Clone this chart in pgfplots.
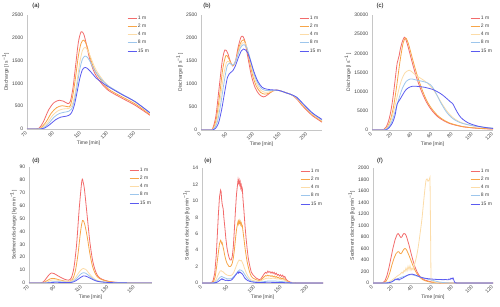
\documentclass[border=0pt]{standalone}
\usepackage{fontspec}
\setmainfont{Liberation Sans}
\usepackage{pgfplots}
\pgfplotsset{compat=1.18}
\newcommand\fs{\fontsize{5}{6}\selectfont}
\definecolor{c1}{HTML}{F26B6B}
\definecolor{c2}{HTML}{F7A548}
\definecolor{c4}{HTML}{FCDCA8}
\definecolor{c8}{HTML}{9DC6EC}
\definecolor{c15}{HTML}{5B5BF0}
\pgfplotsset{
  panel/.style={
    scale only axis, anchor=north west,
    axis lines=left, axis line style={draw=gray!45,-},
    tick style={draw=none},
    /pgf/number format/assume math mode=true,
    /pgf/number format/1000 sep={},
    scaled ticks=false,
    ticklabel style={font=\fs, text=black!75},
    xticklabel style={rotate=45, anchor=east, inner sep=1pt},
    yticklabel style={inner sep=1.5pt},
    label style={font=\fs, text=black!75},
    xlabel={Time [min]},
    xlabel style={yshift=3pt},
    ylabel style={yshift=-2pt},
    ymin=0,
    legend style={at={(1,1)}, anchor=north east, draw=none, fill=none, font=\fs, row sep=1.6pt, inner sep=0pt, nodes={inner sep=0.8pt, text=black!75}},
    legend cell align=left,
    legend image code/.code={\draw[#1,line width=1pt] (0pt,0pt)--(9pt,0pt);},
    every axis plot/.append style={line width=0.8pt},
  }
}
\begin{document}
\begin{tikzpicture}
\path[use as bounding box] (0,0) rectangle (500pt,-307pt);
% (a)
\begin{axis}[panel, at={(27pt,-15pt)}, width=123pt, height=114pt,
  xmin=70, xmax=161, ymax=2500, xtick={70,90,110,130,150}, ytick={0,500,...,2500},
  ylabel={Discharge [l s\textsuperscript{−1}]}]
\addplot[c1, smooth] coordinates {(70,0) (76,0) (79,20) (82,150) (86,420) (90,580) (94,630) (97,610) (100,560) (102,600) (104,900) (106,1400) (108,1900) (110,2130) (112,2080) (114,1850) (116,1580) (118,1380) (120,1230) (124,1040) (130,850) (140,680) (150,520) (161,300)};
\addplot[c2, smooth] coordinates {(70,0) (77,0) (80,20) (84,150) (88,350) (92,470) (96,510) (100,490) (102,510) (104,750) (106,1150) (108,1600) (110,1880) (112,1950) (114,1850) (116,1650) (118,1450) (120,1300) (124,1100) (130,880) (140,710) (150,550) (161,320)};
\addplot[c4, smooth] coordinates {(70,0)(78,0)(81,20)(85,130)(89,300)(93,400)(97,440)(101,450)(103,500)(105,700)(107,1050)(109,1450)(111,1720)(113,1790)(115,1720)(117,1580)(119,1430)(121,1300)(125,1120)(130,950)(140,760)(150,590)(161,340)};
\addplot[c8, smooth] coordinates {(70,0)(79,0)(82,20)(86,120)(90,260)(94,340)(98,370)(101,390)(103,440)(105,620)(107,940)(109,1300)(111,1530)(113,1600)(115,1560)(117,1460)(119,1340)(121,1240)(125,1090)(130,950)(140,770)(150,600)(161,355)};
\addplot[c15, smooth] coordinates {(70,0)(80,0)(83,20)(87,100)(91,200)(95,260)(99,280)(101,300)(103,360)(105,520)(107,800)(109,1100)(111,1300)(113,1350)(115,1320)(117,1260)(119,1190)(121,1120)(125,1030)(130,930)(140,760)(150,600)(161,355)};
\legend{1 m,2 m,4 m,8 m,15 m}
\end{axis}
% (b)
\begin{axis}[panel, at={(201pt,-15pt)}, width=121pt, height=115pt,
  xmin=0, xmax=228, ymax=2500, xtick={0,50,...,200}, ytick={0,500,...,2500},
  ylabel={Discharge [l s\textsuperscript{−1}]}]
\addplot[c1, smooth] coordinates {(0,0)(18,0)(22,30)(28,300)(34,900)(40,1500)(45,1740)(50,1680)(55,1500)(60,1390)(65,1500)(70,1800)(75,2010)(78,2040)(82,1960)(88,1600)(95,1180)(102,920)(110,770)(118,720)(125,760)(135,850)(142,870)(150,850)(160,810)(170,770)(180,680)(190,540)(200,420)(210,310)(220,230)(228,170)};
\addplot[c2, smooth] coordinates {(0,0)(19,0)(23,30)(29,250)(35,750)(41,1330)(47,1620)(52,1560)(57,1440)(61,1400)(66,1520)(72,1820)(77,1940)(80,1960)(84,1890)(90,1580)(97,1200)(104,960)(112,820)(120,780)(128,800)(136,850)(142,865)(150,850)(160,810)(170,770)(180,690)(190,560)(200,440)(210,330)(220,250)(228,185)};
\addplot[c4, smooth] coordinates {(0,0)(20,0)(24,30)(30,220)(36,650)(42,1150)(48,1470)(53,1480)(58,1420)(62,1420)(67,1560)(73,1800)(78,1890)(81,1900)(85,1850)(91,1580)(98,1230)(105,1000)(113,860)(121,820)(129,830)(137,860)(143,865)(150,850)(160,810)(170,770)(180,700)(190,575)(200,455)(210,345)(220,265)(228,200)};
\addplot[c8, smooth] coordinates {(0,0)(21,0)(25,30)(31,180)(37,550)(43,1000)(49,1380)(54,1450)(59,1410)(63,1440)(68,1580)(74,1780)(79,1850)(82,1850)(86,1800)(92,1580)(99,1260)(106,1040)(114,900)(122,860)(130,860)(138,865)(144,865)(150,850)(160,810)(170,770)(180,710)(190,590)(200,470)(210,360)(220,280)(228,215)};
\addplot[c15, smooth] coordinates {(0,0)(22,0)(27,30)(33,150)(39,450)(45,850)(50,1150)(55,1240)(60,1290)(65,1400)(70,1560)(76,1720)(80,1760)(84,1740)(88,1680)(94,1480)(100,1260)(107,1060)(115,930)(123,890)(131,875)(139,870)(145,865)(150,850)(160,810)(170,770)(180,715)(190,600)(200,480)(210,370)(220,290)(228,230)};
\legend{1 m,2 m,4 m,8 m,15 m}
\end{axis}
% (c)
\begin{axis}[panel, at={(372pt,-15pt)}, width=121pt, height=115pt,
  xmin=0, xmax=120, ymax=30000, xtick={0,20,...,120}, ytick={0,5000,...,30000},
  ylabel={Discharge [l s\textsuperscript{−1}]}]
\addplot[c1, smooth] coordinates {(0,0)(10,0)(12,200)(14,800)(16,2000)(18,4000)(20,7000)(22,11000)(24,15500)(25,17500)(26,18500)(27,19500)(28,21000)(30,23000)(32,24200)(33,24000)(34,23300)(36,21500)(38,19500)(40,17500)(42,15600)(45,13000)(50,9500)(55,6800)(60,4900)(65,3500)(70,2600)(75,1900)(80,1450)(90,850)(100,550)(110,350)(120,250)};
\addplot[c2, smooth] coordinates {(0,0)(11,0)(13,200)(15,700)(17,1700)(19,3300)(21,5600)(23,8800)(25,12500)(27,16500)(29,20000)(31,22800)(33,24000)(34,23900)(36,22600)(38,20700)(40,18700)(42,16800)(45,14100)(50,10300)(55,7300)(60,5300)(65,3800)(70,2800)(75,2050)(80,1550)(90,900)(100,580)(110,380)(120,260)};
\addplot[c4, smooth] coordinates {(0,0)(11,0)(13,200)(15,600)(17,1400)(19,2700)(21,4500)(23,6500)(25,8800)(27,11000)(29,12800)(31,14100)(33,15000)(35,15400)(37,15600)(39,15300)(42,14600)(45,14000)(50,13200)(55,12200)(60,10800)(65,8800)(70,6600)(75,4700)(80,3300)(85,2400)(90,1800)(100,1100)(110,700)(120,450)};
\addplot[c8, smooth] coordinates {(0,0)(12,0)(14,200)(16,600)(18,1300)(20,2500)(22,4000)(24,5800)(26,7600)(28,9300)(30,10800)(32,11900)(34,12700)(36,13100)(38,13300)(40,13300)(43,13100)(46,12900)(50,12700)(55,12300)(58,11800)(61,10800)(64,9300)(67,7700)(70,6300)(73,5000)(76,4000)(80,3000)(85,2200)(90,1700)(100,1100)(110,750)(120,500)};
\addplot[c15, smooth] coordinates {(0,0)(13,0)(15,200)(17,600)(19,1300)(21,2300)(23,4000)(24,5500)(25,6800)(26,7300)(28,8100)(30,9000)(32,9900)(34,10600)(36,11000)(38,11250)(40,11400)(44,11400)(48,11300)(52,11150)(56,10900)(60,10600)(64,10100)(68,9500)(72,8700)(75,8000)(78,7300)(80,6900)(82,5900)(84,4900)(86,4000)(88,3300)(90,2800)(95,1900)(100,1400)(105,1000)(110,750)(115,550)(120,400)};
\legend{1 m,2 m,4 m,8 m,15 m}
\end{axis}
% (d)
\begin{axis}[panel, at={(29pt,-167pt)}, width=123pt, height=116pt,
  xmin=70, xmax=163, ymax=90, xtick={70,90,110,130,150}, ytick={0,10,...,90},
  ylabel={Sediment discharge [kg min\textsuperscript{−1}]}]
\addplot[c1, smooth] coordinates {(70,0)(79,0)(81,1)(83,3.5)(85,6.2)(87,7.8)(89,7.3)(92,5.5)(95,3.8)(98,2.5)(100,2.2)(102,4)(104,12)(106,30)(108,58)(110,79.5)(111,78)(112,72)(114,52)(116,32)(118,18)(120,10)(122,5.5)(125,3)(130,1.3)(135,0.6)(140,0.3)(150,0.1)(163,0)};
\addplot[c2, smooth] coordinates {(70,0)(80,0)(82,0.8)(84,2)(86,3.2)(88,3.6)(90,3.3)(93,2.4)(96,1.7)(99,1.2)(101,1.3)(103,3)(105,9)(107,22)(109,40)(110.5,48.5)(112,46)(114,36)(116,23)(118,13)(120,7.5)(122,4.5)(125,2.6)(130,1.2)(135,0.5)(140,0.2)(150,0.05)(163,0)};
\addplot[c4, smooth] coordinates {(70,0)(81,0)(84,0.8)(87,2.2)(90,2.4)(94,1.7)(98,1.1)(101,1.2)(103,2)(105,4)(107,7)(109,9.8)(111,11.3)(113,10.5)(115,8)(117,5.5)(119,3.5)(121,2.2)(124,1.3)(130,0.6)(140,0.2)(163,0)};
\addplot[c8, smooth] coordinates {(70,0)(82,0)(85,0.4)(88,0.9)(91,1.0)(95,0.8)(99,0.6)(102,0.8)(104,1.8)(106,3.5)(108,5.8)(110,7.6)(111.5,8)(113,7.5)(115,6)(117,4.2)(119,2.8)(121,1.8)(124,1)(130,0.4)(140,0.1)(163,0)};
\addplot[c15, smooth] coordinates {(70,0)(83,0)(86,0.2)(89,0.5)(92,0.5)(96,0.4)(100,0.35)(103,0.6)(105,1.5)(107,2.8)(109,4.3)(111,5.5)(113,5.3)(115,4.4)(117,3.3)(119,2.3)(121,1.5)(124,0.9)(130,0.4)(140,0.1)(163,0)};
\legend{1 m,2 m,4 m,8 m,15 m}
\end{axis}
% (e)
\begin{axis}[panel, at={(202pt,-168pt)}, width=121pt, height=115pt,
  xmin=0, xmax=228, ymax=14, xtick={0,50,...,200}, ytick={0,2,...,14},
  ylabel={Sediment discharge [kg min\textsuperscript{−1}]}]
\addplot[c1] coordinates {(0,0)(15,0)(18,0.05)(21,0.3)(24,1.2)(27,3.5)(29,6)(31,8.5)(33,10.5)(35,11.3)(36,11.1)(37,10.2)(38,9.6)(39,9.3)(40,9.0)(41,8.1)(43,6.8)(45,5.4)(47,4.3)(49,3.6)(51,3.1)(53,2.8)(55,2.8)(57,3.2)(59,4.4)(61,6.5)(63,8.8)(65,10.8)(67,12.0)(68,12.6)(69,12.2)(70,12.5)(71,12.0)(72,12.3)(73,11.6)(74,11.9)(75,11.3)(76,11.5)(77,10.4)(79,8.8)(81,7.0)(83,5.5)(85,4.2)(87,3.1)(89,2.4)(91,1.8)(93,1.3)(96,1.0)(99,0.8)(102,0.6)(105,0.5)(108,0.4)(111,0.5)(114,0.8)(117,1.1)(120,1.3)(122,1.2)(124,1.45)(126,1.3)(128,1.4)(130,1.2)(132,1.35)(134,1.15)(136,1.3)(138,1.05)(140,1.2)(142,0.95)(144,1.05)(146,0.85)(148,1.0)(150,0.8)(152,0.95)(154,0.7)(156,0.8)(158,0.5)(160,0.35)(163,0.2)(167,0.1)(172,0.03)(180,0)(228,0)};
\addplot[c2] coordinates {(0,0)(16,0)(19,0.05)(22,0.2)(25,0.8)(28,2.2)(31,3.8)(33,4.8)(35,5.2)(36,5.1)(37,4.8)(38,4.9)(39,4.6)(41,4.0)(43,3.3)(45,2.8)(47,2.4)(49,2.2)(51,2.0)(53,2.0)(55,2.1)(57,2.4)(59,3.0)(61,4.0)(63,5.3)(65,6.5)(67,7.2)(68,7.5)(69,7.2)(70,7.6)(71,7.3)(72,7.5)(73,7.1)(74,7.3)(75,6.9)(76,7.0)(77,6.4)(79,5.4)(81,4.3)(83,3.4)(85,2.6)(87,2.0)(89,1.5)(91,1.1)(93,0.8)(96,0.6)(99,0.5)(102,0.4)(105,0.35)(108,0.3)(111,0.35)(114,0.55)(117,0.75)(120,0.9)(122,0.85)(124,0.95)(126,0.85)(128,0.9)(130,0.8)(132,0.9)(134,0.75)(136,0.85)(138,0.7)(140,0.8)(142,0.65)(144,0.7)(146,0.55)(148,0.65)(150,0.5)(152,0.6)(154,0.45)(156,0.5)(158,0.3)(160,0.2)(163,0.12)(167,0.05)(172,0.02)(180,0)(228,0)};
\addplot[c4] coordinates {(0,0)(17,0)(20,0.02)(23,0.1)(26,0.35)(29,0.8)(32,1.2)(34,1.45)(36,1.5)(38,1.4)(40,1.35)(42,1.2)(45,1.05)(48,0.95)(51,0.9)(54,0.9)(57,1.0)(60,1.3)(63,1.8)(66,2.3)(68,2.6)(70,2.8)(72,2.7)(74,2.75)(76,2.5)(78,2.2)(80,1.8)(83,1.3)(86,0.9)(89,0.6)(92,0.4)(96,0.3)(100,0.25)(105,0.2)(110,0.25)(115,0.4)(120,0.55)(125,0.6)(130,0.55)(135,0.6)(140,0.5)(145,0.5)(150,0.4)(155,0.35)(160,0.15)(165,0.06)(172,0.02)(180,0)(228,0)};
\addplot[c8] coordinates {(0,0)(18,0)(22,0.03)(26,0.15)(30,0.4)(34,0.7)(37,0.8)(40,0.7)(44,0.6)(48,0.5)(52,0.5)(56,0.55)(60,0.8)(64,1.1)(68,1.45)(71,1.6)(74,1.55)(77,1.4)(80,1.1)(84,0.7)(88,0.4)(92,0.25)(97,0.15)(105,0.1)(115,0.15)(125,0.25)(135,0.25)(145,0.2)(155,0.15)(163,0.05)(172,0)(228,0)};
\addplot[c15] coordinates {(0,0)(20,0)(24,0.02)(28,0.08)(31,0.2)(34,0.35)(36,0.45)(37,0.5)(38,0.42)(39,0.5)(41,0.4)(43,0.35)(45,0.3)(47,0.35)(49,0.28)(51,0.3)(53,0.32)(55,0.35)(57,0.45)(59,0.6)(61,0.75)(63,0.95)(65,1.1)(67,1.25)(68,1.35)(69,1.2)(70,1.3)(71,1.35)(72,1.25)(73,1.3)(74,1.2)(76,1.1)(78,0.9)(80,0.65)(83,0.45)(86,0.3)(90,0.2)(95,0.12)(100,0.08)(110,0.06)(120,0.08)(130,0.08)(140,0.07)(150,0.06)(160,0.03)(170,0.01)(180,0)(228,0)};
\legend{1 m,2 m,4 m,8 m,15 m}
\end{axis}
% (f)
\begin{axis}[panel, at={(373pt,-168pt)}, width=120pt, height=115pt,
  xmin=0, xmax=120, ymax=2000, xtick={0,20,...,120}, ytick={0,200,...,2000},
  ylabel={Sediment discharge [kg min\textsuperscript{−1}]}]
\addplot[c1] coordinates {(0,0)(8,0)(10,5)(12,40)(14,130)(16,270)(18,440)(20,610)(22,750)(24,840)(25,860)(26,845)(27,810)(28,790)(29,805)(30,845)(31,860)(32,855)(33,830)(34,780)(36,660)(38,520)(40,390)(42,280)(44,195)(46,135)(48,95)(50,70)(52,50)(55,35)(58,20)(62,10)(66,3)(70,0)(120,0)};
\addplot[c2] coordinates {(0,0)(9,0)(11,5)(13,30)(15,90)(17,190)(19,320)(21,430)(23,510)(25,545)(26,540)(27,515)(28,510)(29,530)(30,565)(31,590)(32,600)(33,590)(34,560)(36,480)(38,390)(40,300)(42,220)(44,160)(46,115)(48,80)(50,55)(52,40)(55,25)(58,15)(62,7)(66,2)(70,0)(120,0)};
\addplot[c4] coordinates {(0,0)(10,0)(13,5)(16,20)(19,50)(22,90)(25,130)(27,150)(29,190)(30,170)(31,220)(32,200)(33,260)(34,210)(35,290)(36,230)(37,300)(38,220)(39,260)(40,230)(41,290)(42,350)(43,420)(44,500)(45,600)(46,720)(47,850)(48,980)(49,1120)(50,1300)(51,1480)(52,1650)(53,1790)(54,1810)(55,1770)(56,1790)(57,1840)(57.5,1000)(58,60)(59,30)(62,15)(66,5)(70,0)(120,0)};
\addplot[c8] coordinates {(0,0)(12,0)(15,5)(18,20)(21,45)(24,70)(27,90)(30,110)(33,125)(36,140)(38,145)(40,140)(42,130)(45,115)(48,100)(51,85)(54,70)(57,55)(60,45)(63,30)(66,18)(70,8)(75,2)(80,0)(120,0)};
\addplot[c15] coordinates {(0,0)(13,0)(16,5)(19,20)(21,45)(22,60)(23,70)(24,55)(25,75)(26,50)(27,65)(29,80)(31,100)(33,120)(35,140)(37,150)(39,155)(41,145)(43,135)(45,120)(47,105)(49,95)(51,85)(53,80)(55,75)(58,70)(61,65)(64,62)(67,60)(70,58)(73,60)(75,55)(76,70)(77,60)(78,85)(79,70)(80,90)(81,40)(82,5)(84,0)(120,0)};
\legend{1 m,2 m,4 m,8 m,15 m}
\end{axis}
\node[font=\fontsize{6}{7}\selectfont] at (36pt,-6pt) {(a)};
\node[font=\fontsize{6}{7}\selectfont] at (207pt,-6pt) {(b)};
\node[font=\fontsize{6}{7}\selectfont] at (380pt,-6pt) {(c)};
\node[font=\fontsize{6}{7}\selectfont] at (36pt,-161pt) {(d)};
\node[font=\fontsize{6}{7}\selectfont] at (208pt,-161pt) {(e)};
\node[font=\fontsize{6}{7}\selectfont] at (380pt,-161pt) {(f)};
\end{tikzpicture}
\end{document}
